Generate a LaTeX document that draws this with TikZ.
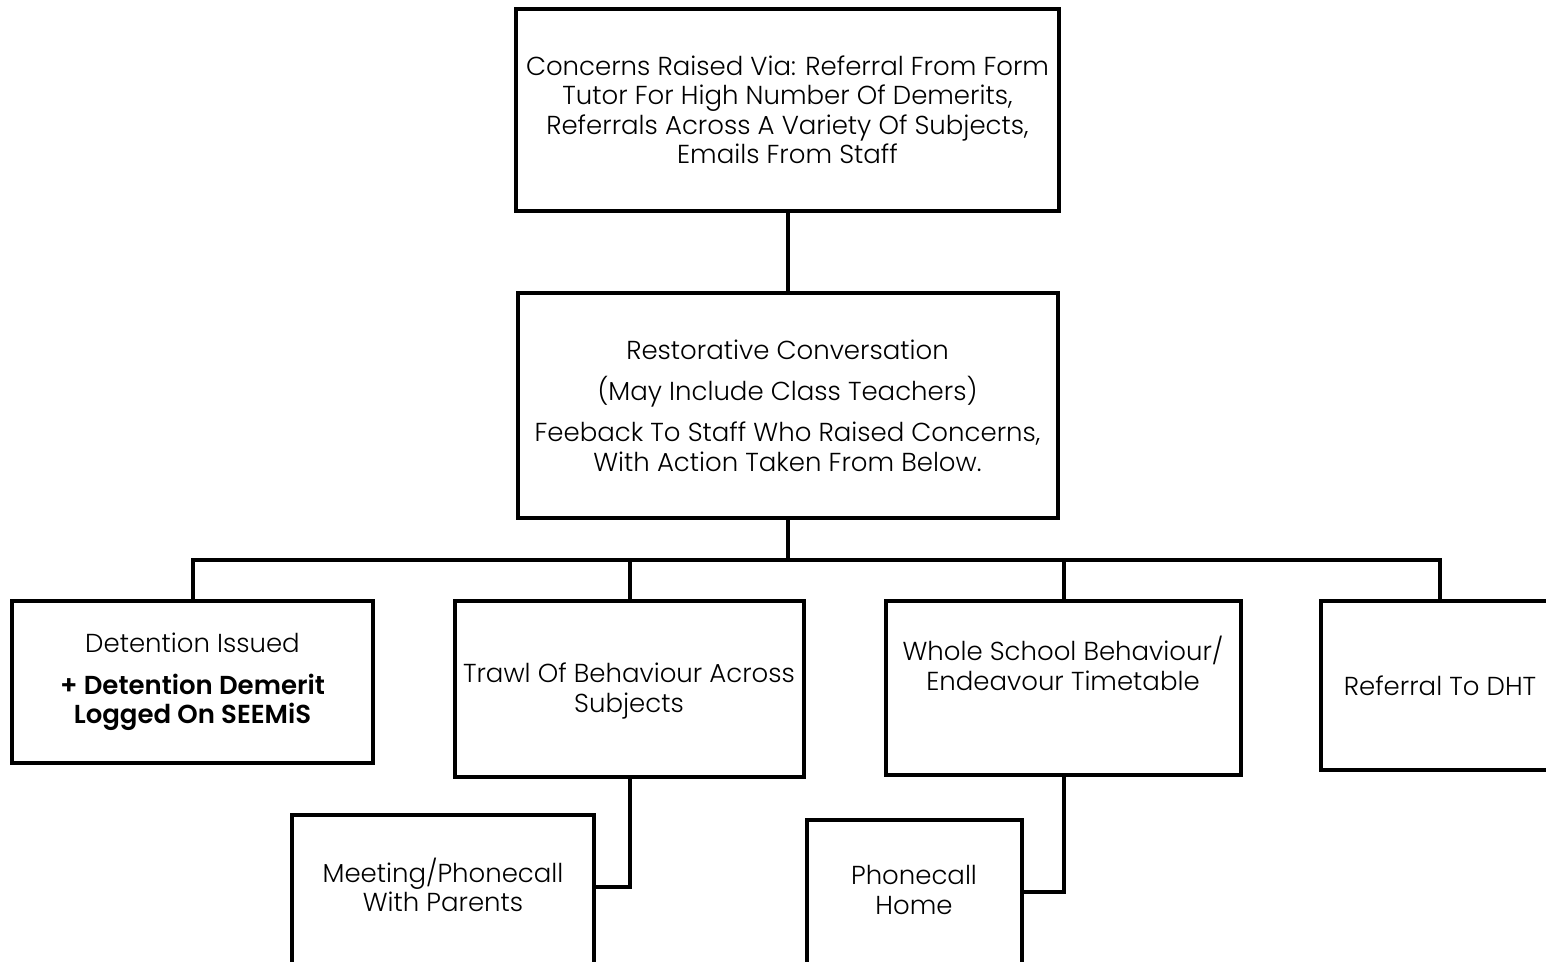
\documentclass[tikz,border=0pt]{standalone}
\usepackage{fontspec}
\setmainfont{Poppins}[UprightFont=* Light, BoldFont=* SemiBold]
\usetikzlibrary{calc}
\tikzset{
  box/.style={draw=black, line width=2pt, fill=white, inner sep=0pt, align=center,
              font=\fontsize{13}{14.75}\selectfont},
  txt/.style={inner sep=0pt, align=center, font=\fontsize{13}{14.75}\selectfont},
  link/.style={draw=black, line width=2pt, line join=miter}
}
\begin{document}
\begin{tikzpicture}[x=0.5pt,y=-0.5pt]
  \useasboundingbox (0,0) rectangle (1546,962);
  \clip (0,0) rectangle (1546,962);

  % top level
  \node[box, minimum width=271.5pt, minimum height=101pt] (top) at (787.5,110)
    {Concerns Raised Via: Referral From Form\\
     Tutor For High Number Of Demerits,\\
     Referrals Across A Variety Of Subjects,\\
     Emails From Staff};

  % second level
  \node[box, minimum width=270pt, minimum height=112.5pt] (mid) at (787.5,405.5)
    {Restorative Conversation\\[5.8pt]
     (May Include Class Teachers)\\[5.8pt]
     Feeback To Staff Who Raised Concerns,\\
     With Action Taken From Below.};

  % action boxes
  \node[box, minimum width=180.5pt, minimum height=81pt] (b1) at (192.5,682)
    {Detention Issued\\[6pt]
     \textbf{+ Detention Demerit}\\
     \textbf{Logged On SEEMiS}};
  \node[box, minimum width=174.5pt, minimum height=88pt] (b2) at (629.5,689) {};
  \node[txt] (t2) at (629,691) {Trawl Of Behaviour Across\\ Subjects};
  \node[box, minimum width=177.5pt, minimum height=87pt] (b3) at (1063.5,688) {};
  \node[txt] (t3) at (1063,663.5) {Whole School Behaviour/\\ Endeavour Timetable};
  \node[box, minimum width=119pt, minimum height=84.5pt] (b4) at (1440,685.5)
    {Referral To DHT};

  % follow-up boxes
  \node[box, minimum width=151pt, minimum height=100pt] (b5) at (443,915) {};
  \node[txt] (t5) at (443,885) {Meeting/Phonecall\\ With Parents};
  \node[box, minimum width=107.5pt, minimum height=100pt] (b6) at (914.5,920) {};
  \node[txt] (t6) at (914,890) {Phonecall\\ Home};

  % connectors
  \draw[link] (top.south) -- (mid.north);
  \coordinate (bus) at (787.5,560);
  \draw[link] (mid.south) -- (bus);
  \draw[link] (b1.north) |- (bus) -| (b4.north);
  \draw[link] (b2.north) -- (b2.north |- bus);
  \draw[link] (b3.north) -- (b3.north |- bus);
  \draw[link] (b2.south) |- ($(b5.east |- t5.center)+(0,2)$);
  \draw[link] (b3.south) |- ($(b6.east |- t6.center)+(0,2)$);
\end{tikzpicture}
\end{document}
